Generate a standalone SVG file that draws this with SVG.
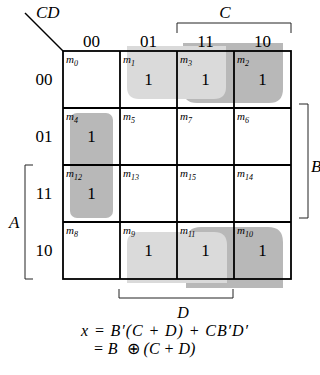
<svg xmlns="http://www.w3.org/2000/svg" width="320" height="375" viewBox="0 0 320 375">
<style>
.t{font-family:"Liberation Serif","Times New Roman",serif;font-size:17px;fill:#000}
.e{font-family:"Liberation Serif","Times New Roman",serif;font-size:16px;font-style:italic;fill:#000}
.i{font-style:italic}
.m{font-family:"Liberation Serif","Times New Roman",serif;font-style:italic;font-size:11px;fill:#000}
.s{font-size:8px}
.one{font-family:"Liberation Serif","Times New Roman",serif;font-size:17px;text-anchor:middle;fill:#000}
.g{stroke:#000;stroke-width:1.8;fill:none}
.br{stroke:#222;stroke-width:1;fill:none}
.lt{fill:#dadada}
.dk{fill:#b8b8b8}
</style>
<g id="groups">
<path class="dk" d="M183,43 H283 V89 Q283,103 269,103 H197 Q183,103 183,89 Z"/>
<path class="dk" d="M186,288 V242 Q186,227 201,227 H268 Q283,227 283,242 V288 Z"/>
<rect class="dk" x="70" y="113" width="43" height="105" rx="7"/>
<path class="lt" d="M127,46 H226 V87 Q226,99 214,99 H139 Q127,99 127,87 Z"/>
<path class="lt" d="M127,283 V244 Q127,232 139,232 H214 Q227,232 227,245 V283 Z"/>
</g>
<g id="grid">
<rect class="g" x="63" y="51" width="228" height="228"/>
<line class="g" x1="120" y1="51" x2="120" y2="279"/>
<line class="g" x1="177" y1="51" x2="177" y2="279"/>
<line class="g" x1="234" y1="51" x2="234" y2="279"/>
<line class="g" x1="63" y1="108" x2="291" y2="108"/>
<line class="g" x1="63" y1="165" x2="291" y2="165"/>
<line class="g" x1="63" y1="222" x2="291" y2="222"/>
<line stroke="#000" stroke-width="1.5" x1="25" y1="13" x2="63" y2="51"/>
</g>
<g id="brackets">
<path class="br" d="M177,33 V23 H291 V33"/>
<path class="br" d="M299,104 H308 V218 H299"/>
<path class="br" d="M33,165 H25 V279 H33"/>
<path class="br" d="M119,289 V298 H233 V289"/>
</g>
<g id="labels">
<text class="t i" x="36" y="18">CD</text>
<text class="t" x="91.5" y="47" text-anchor="middle">00</text>
<text class="t" x="148.5" y="47" text-anchor="middle">01</text>
<text class="t" x="205.5" y="47" text-anchor="middle">11</text>
<text class="t" x="262.5" y="47" text-anchor="middle">10</text>
<text class="t" x="44" y="85" text-anchor="middle">00</text>
<text class="t" x="44" y="142" text-anchor="middle">01</text>
<text class="t" x="44" y="199" text-anchor="middle">11</text>
<text class="t" x="44" y="256" text-anchor="middle">10</text>
<text class="t i" x="225" y="18" text-anchor="middle">C</text>
<text class="t i" x="311" y="172">B</text>
<text class="t i" x="9" y="228">A</text>
<text class="e" x="183" y="318" text-anchor="middle">D</text>
</g>
<g id="minterms">
<text class="m" x="66" y="63">m<tspan class="s" dy="3">0</tspan></text>
<text class="m" x="123" y="63">m<tspan class="s" dy="3">1</tspan></text>
<text class="m" x="180" y="63">m<tspan class="s" dy="3">3</tspan></text>
<text class="m" x="237" y="63">m<tspan class="s" dy="3">2</tspan></text>
<text class="m" x="66" y="120">m<tspan class="s" dy="3">4</tspan></text>
<text class="m" x="123" y="120">m<tspan class="s" dy="3">5</tspan></text>
<text class="m" x="180" y="120">m<tspan class="s" dy="3">7</tspan></text>
<text class="m" x="237" y="120">m<tspan class="s" dy="3">6</tspan></text>
<text class="m" x="66" y="177">m<tspan class="s" dy="3">12</tspan></text>
<text class="m" x="123" y="177">m<tspan class="s" dy="3">13</tspan></text>
<text class="m" x="180" y="177">m<tspan class="s" dy="3">15</tspan></text>
<text class="m" x="237" y="177">m<tspan class="s" dy="3">14</tspan></text>
<text class="m" x="66" y="234">m<tspan class="s" dy="3">8</tspan></text>
<text class="m" x="123" y="234">m<tspan class="s" dy="3">9</tspan></text>
<text class="m" x="180" y="234">m<tspan class="s" dy="3">11</tspan></text>
<text class="m" x="237" y="234">m<tspan class="s" dy="3">10</tspan></text>
</g>
<g id="ones">
<text class="one" x="148.5" y="85">1</text>
<text class="one" x="205.5" y="85">1</text>
<text class="one" x="262.5" y="85">1</text>
<text class="one" x="91.5" y="142">1</text>
<text class="one" x="91.5" y="199">1</text>
<text class="one" x="148.5" y="256">1</text>
<text class="one" x="205.5" y="256">1</text>
<text class="one" x="262.5" y="256">1</text>
</g>
<g id="equation">
<text class="e" x="81" y="336" textLength="167" lengthAdjust="spacing">x = B′(C + D) + CB′D′</text>
<text class="e" x="93" y="354">= B <tspan font-style="normal" dx="5">⊕</tspan> (C + D)</text>
</g>
</svg>
